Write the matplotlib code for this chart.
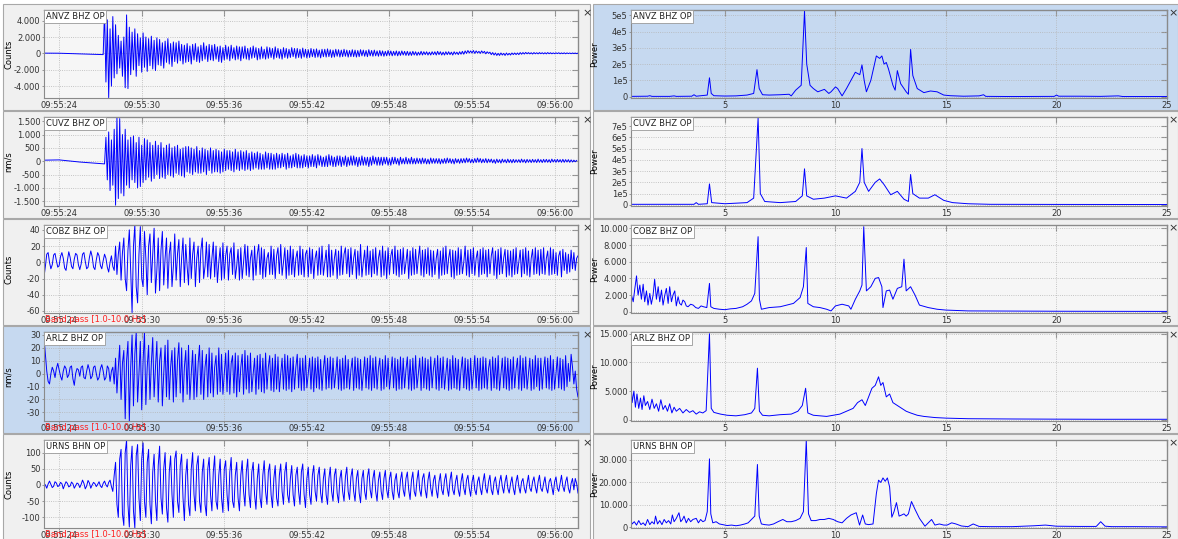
import matplotlib.pyplot as plt
from matplotlib.patches import Rectangle
from matplotlib.ticker import FuncFormatter

# ---------------- waveforms (seconds after 09:55:00), one sample every DT ----------------
DT = 0.1

# ANVZ BHZ: quiet part first, then the event from the onset
anvz_pre_t = [22.9, 24.0, 25.5, 27.2]
anvz_pre = [30, 20, -60, -150]
anvz_t0 = 27.3
anvz = [5200, -3500, 4100, -5400, 3000, -4000, 4500, -3000, 3500, -2500, 2200, -1800, 1500, -2800, 2000, -4200, 4700, -4300, 3200, -2600,
        2600, -2000, 3000, -2800, 2400, -1500, 1900, -2300, 2500, -1700, 2000, -2200, 1800, -1500, 2100, -1900, 1600, -2100, 1900, -1400,
        1700, -1500, 1300, -1800, 1500, -1100, 1800, -1300, 1200, -1600, 1400, -1000, 1300, -1200, 1500, -900, 1100, -1300, 1000, -1100,
        1200, -1000, 900, -1300, 1100, -800, 1200, -1000, 800, -1100, 1000, -900, 1300, -700, 900, -1000, 1100, -800, 1000, -900,
        1100, -700, 800, -1000, 900, -1100, 700, -800, 1000, -700, 800, -900, 1000, -600, 700, -800, 900, -700, 800, -900,
        800, -600, 900, -700, 600, -800, 700, -600, 900, -500, 700, -800, 600, -700, 800, -600, 500, -700, 800, -600,
        700, -500, 600, -700, 800, -500, 600, -600, 500, -700, 700, -500, 600, -600, 500, -500, 700, -400, 600, -600,
        600, -500, 500, -600, 650, -450, 500, -550, 450, -500, 600, -400, 500, -500, 550, -450, 400, -550, 500, -400,
        500, -450, 550, -400, 450, -500, 400, -450, 500, -350, 450, -450, 400, -400, 500, -350, 400, -450, 350, -400,
        450, -400, 400, -450, 350, -400, 450, -300, 400, -350, 350, -400, 450, -300, 350, -350, 400, -300, 300, -350,
        350, -300, 300, -350, 250, -300, 350, -250, 300, -300, 250, -250, 300, -300, 250, -250, 300, -200, 250, -250,
        250, -250, 200, -250, 250, -200, 200, -250, 150, -200, 250, -200, 200, -150, 200, -200, 150, -200, 200, -150,
        200, -200, 250, -150, 200, -200, 150, -200, 200, -150, 200, -150, 150, -200, 200, -100, 150, -150, 200, -100,
        250, -100, 300, 0, 350, 50, 300, 50, 350, 0, 300, 50, 250, 0, 300, 50, 250, -50, 200, 0,
        150, -150, 100, -200, 50, -250, 0, -250, 50, -200, 0, -250, 50, -200, 0, -200, 50, -150, 50, -150,
        50, -150, 100, -100, 100, -80, 120, -50, 100, -60, 80, -80, 100, -50, 80, -60, 100, -40, 80, -60,
        80, -60, 100, -40, 80, -50, 60, -40, 70, -30, 80, -50, 60, -40, 70, -50, 60, -30, 50, -40,
        50, -20, 40, -30, 30]

cuvz_pre_t = [22.9, 24.0, 25.5, 27.3]
cuvz_pre = [40, 50, -30, -100]
cuvz_t0 = 27.4
cuvz = [900, -700, 1100, -1100, 800, -900, 1200, -1650, 1650, -1400, 1600, -1200, 1000, -1300, 1200, -900, 800, -1000, 900, -700,
        950, -800, 700, -1000, 900, -950, 600, -800, 850, -700, 800, -600, 700, -750, 600, -650, 750, -500, 600, -650,
        700, -600, 500, -650, 600, -500, 650, -550, 500, -600, 550, -450, 600, -500, 450, -550, 500, -600, 550, -400,
        550, -450, 500, -500, 450, -400, 550, -450, 400, -450, 500, -400, 450, -500, 400, -350, 500, -450, 400, -400,
        450, -400, 400, -450, 350, -400, 450, -350, 400, -300, 400, -350, 350, -400, 450, -300, 350, -350, 400, -300,
        350, -350, 400, -300, 300, -350, 350, -300, 300, -250, 350, -300, 300, -300, 250, -300, 350, -250, 300, -300,
        300, -300, 250, -300, 300, -250, 250, -250, 300, -200, 250, -300, 300, -250, 200, -250, 250, -200, 300, -250,
        250, -250, 200, -250, 250, -200, 200, -250, 200, -200, 250, -200, 200, -250, 250, -150, 200, -200, 150, -200,
        200, -200, 250, -150, 200, -200, 150, -200, 200, -150, 200, -200, 150, -150, 200, -200, 150, -150, 200, -150,
        200, -150, 150, -200, 150, -150, 200, -150, 150, -150, 150, -200, 150, -150, 200, -100, 150, -150, 150, -150,
        150, -150, 150, -100, 150, -150, 100, -150, 150, -100, 150, -100, 100, -150, 150, -100, 100, -100, 150, -100,
        100, -100, 150, -100, 100, -100, 120, -80, 100, -100, 120, -80, 100, -100, 80, -100, 120, -80, 100, -80,
        100, -80, 100, -100, 80, -80, 100, -80, 120, -60, 100, -80, 80, -100, 100, -60, 80, -80, 100, -60,
        100, -60, 120, -40, 100, -60, 80, -60, 100, -50, 120, -40, 100, -60, 80, -50, 100, -60, 80, -40,
        80, -60, 60, -80, 80, -50, 60, -70, 80, -40, 60, -60, 80, -50, 60, -60, 70, -50, 60, -40,
        60, -50, 80, -40, 60, -60, 70, -40, 60, -50, 70, -40, 60, -50, 80, -40, 60, -50, 70, -40,
        70, -40, 60, -50, 80, -30, 60, -40, 70, -30, 60, -40, 70, -40, 60, -30, 60, -40, 50, -30,
        40, -20, 30]

# band-passed traces, whole window from 22.9 s
cobz_t0 = 22.9
cobz = [-18, -5, 10, 12, 0, -8, -3, 9, 11, 2, -6, -4, 7, 12, 5, -7, -10, 2, 13, 6,
        -5, -8, 4, 11, 9, -3, -9, -2, 10, 12, 1, -8, -6, 6, 14, 7, -6, -9, 3, 12,
        8, -4, -8, 2, 10, 5, -6, -12, 0, 8, -5, -10, 20, -15, 10, 25, -22, 12, 30, -20,
        -35, 15, 40, -10, -62, 20, 46, -30, -50, 10, 44, -20, -30, 38, 5, -40, 20, 35, -25, 10,
        42, -38, -10, 30, -35, 15, 38, -28, 5, 30, -32, 10, 25, -30, -5, 35, -22, 10, 28, -30,
        5, 30, -25, 22, -5, -28, 30, -20, 10, 25, -30, 5, 20, -25, 15, 30, -20, -5, 25, -18,
        22, -20, 5, 25, -18, 20, -25, 0, 18, -22, 24, -20, 8, 20, -22, 10, 18, -15, 24, -20,
        -5, 16, -22, 18, -20, 0, 22, -16, 20, -18, 5, 15, -22, 20, -16, 10, 22, -15, 18, -20,
        16, -18, 5, 12, -15, 20, -15, 16, -20, 8, 18, -14, 22, -16, 0, 18, -20, 15, -16, 20,
        -15, 16, -18, 5, 14, -16, 20, -15, 16, -18, 10, 15, -18, 18, -14, 16, -20, 5, 14, -16,
        18, -15, 20, -16, 0, 15, -18, 22, -18, 15, -16, 5, 16, -20, 14, -16, 20, -15, 10, 18,
        -14, 16, -18, 18, -15, 5, 16, -20, 14, -16, 22, -18, 0, 15, -16, 20, -15, 14, -18, 16,
        -14, 18, -16, 5, 15, -18, 20, -16, 14, -20, 18, -15, 8, 16, -14, 20, -16, 15, -18, 16,
        -15, 18, -14, 0, 16, -20, 14, -16, 18, -15, 16, -14, 5, 20, -16, 15, -18, 16, -14, 18,
        -16, 15, -18, 14, -15, 5, 16, -20, 14, -16, 18, -15, 20, -14, 5, 16, -18, 15, -20, 14,
        -16, 18, -15, 16, -14, 0, 20, -16, 15, -18, 16, -14, 18, -16, 5, 14, -18, 16, -15, 18,
        -14, 15, -18, 16, -14, 8, 18, -16, 14, -20, 16, -15, 18, -14, 5, 16, -18, 15, -16, 14,
        -18, 16, -15, 18, -14, 0, 15, -18, 16, -14, 18, -16, 14, -18, 5, 16, -15, 18, -14, 15,
        -16, 16, -14, 18, -15, 5, 14, -16, 18, -15, 16, -14, 12, -16, 8, 14, -18, 16, -10, 12,
        -14, 10, -12, 15, -8, 12, -10, 5, 8]

arlz_t0 = 22.9
arlz = [28, 15, 2, -6, -8, 0, 5, 2, -3, 4, 8, 3, -2, -5, 2, 6, 4, -3, -1, 5,
        6, -4, -9, 0, 4, 3, -2, 5, 6, -3, -4, 2, 7, 3, -4, -2, 5, 6, 0, -5,
        -3, 4, 7, 2, -5, -3, 6, 4, -6, 2, 5, -8, 12, -15, 5, 22, -20, 8, 18, -35,
        10, 25, -37, 5, 30, -25, 15, 32, -22, 0, 25, -28, 10, 32, -24, 5, 22, -20, 8, 28,
        -18, 5, 25, -22, 10, 20, -25, 0, 22, -18, 26, -20, 5, 18, -22, 20, -18, 10, 24, -15,
        20, -22, 5, 18, -16, 22, -20, 0, 18, -20, 15, -18, 8, 22, -16, 18, -20, 5, 15, -18,
        20, -15, 16, -18, 5, 14, -16, 20, -14, 15, -16, 0, 16, -14, 18, -16, 8, 14, -15, 16,
        -18, 14, -14, 5, 15, -16, 18, -12, 14, -15, 16, -14, 0, 12, -16, 14, -12, 15, -14, 12,
        -15, 16, -12, 5, 14, -13, 12, -14, 15, -12, 13, -14, 0, 12, -12, 15, -13, 14, -12, 12,
        -14, 13, -12, 5, 15, -11, 12, -13, 12, -13, 14, -11, 0, 12, -12, 13, -14, 12, -11, 13,
        -12, 11, -13, 4, 14, -12, 12, -11, 13, -12, 12, -11, 0, 13, -12, 11, -13, 12, -12, 14,
        -11, 11, -12, 3, 12, -13, 13, -11, 12, -12, 11, -13, 0, 13, -11, 12, -12, 14, -13, 12,
        -11, 13, -12, 4, 12, -13, 11, -12, 14, -10, 12, -12, 0, 13, -11, 12, -13, 11, -12, 13,
        -12, 12, -11, 3, 13, -12, 11, -13, 12, -12, 14, -11, 0, 12, -13, 13, -11, 12, -12, 11,
        -13, 13, -11, 4, 12, -12, 14, -13, 12, -11, 13, -12, 0, 12, -13, 11, -12, 14, -11, 12,
        -12, 11, -13, 3, 13, -11, 12, -12, 11, -13, 12, -12, 0, 14, -11, 12, -13, 12, -12, 13,
        -11, 12, -12, 4, 11, -13, 13, -11, 12, -12, 14, -13, 0, 12, -11, 13, -12, 12, -13, 11,
        -12, 13, -11, 3, 12, -12, 14, -13, 12, -11, 13, -12, 0, 12, -13, 11, -12, 14, -10, 12,
        -13, 12, -12, 4, 13, -11, 12, -12, 14, -13, 11, -12, 0, 13, -11, 12, -12, 11, -13, 14,
        -10, 8, -6, 15, 5, -8, 2, -12, -18]

urns_t0 = 22.9
urns = [5, 0, -10, 3, 12, 2, -8, -4, 10, 6, -5, -2, 8, 4, -12, 0, 10, 5, -6, -3,
        9, 4, -10, -2, 6, 3, -8, 2, 15, 5, -12, -3, 14, 6, -10, 0, 8, 4, -5, 2,
        10, -3, -8, 5, 12, 0, -6, 8, 15, -5, -20, 30, 70, -60, -100, 80, 110, -90, -125, 100,
        139, -60, -130, 60, 120, -80, -133, 90, 125, -40, -110, 80, 130, -50, -100, 70, 110, -60, -120, 40,
        95, -50, -110, 60, 120, -40, -90, 50, 100, -70, -115, 40, 90, -30, -100, 80, 105, -50, -85, 60,
        95, -40, -110, 30, 80, -60, -95, 50, 100, -30, -80, 60, 90, -50, -85, 40, 80, -60, -95, 50,
        85, -30, -80, 40, 90, -50, -75, 30, 80, -40, -85, 50, 75, -30, -80, 40, 85, -50, -70, 30,
        70, -40, -80, 30, 75, -20, -65, 40, 80, -30, -70, 40, 70, -30, -75, 20, 65, -40, -70, 30,
        75, -20, -60, 40, 65, -30, -70, 20, 60, -40, -65, 30, 65, -20, -60, 40, 70, -30, -55, 20,
        60, -30, -65, 30, 55, -20, -60, 40, 65, -30, -70, 20, 55, -30, -60, 30, 60, -20, -50, 30,
        55, -25, -55, 20, 50, -30, -60, 20, 55, -20, -50, 30, 50, -25, -55, 20, 45, -20, -50, 25,
        55, -20, -45, 25, 50, -20, -50, 20, 45, -25, -55, 20, 45, -20, -45, 25, 50, -15, -40, 20,
        45, -20, -50, 15, 40, -20, -45, 20, 45, -15, -40, 20, 40, -20, -45, 15, 35, -20, -40, 15,
        40, -15, -35, 20, 40, -15, -45, 15, 40, -20, -35, 15, 45, -15, -35, 20, 35, -15, -40, 15,
        40, -10, -35, 15, 30, -15, -40, 10, 35, -15, -30, 15, 35, -10, -35, 15, 40, -15, -30, 10,
        30, -15, -35, 10, 35, -10, -30, 15, 30, -10, -35, 10, 30, -15, -30, 10, 25, -10, -30, 10,
        35, -10, -25, 10, 30, -15, -30, 10, 25, -10, -30, 10, 30, -5, -25, 10, 30, -10, -25, 5,
        25, -10, -30, 10, 30, -5, -25, 10, 20, -10, -25, 5, 30, -10, -20, 10, 25, -5, -25, 10,
        30, -10, -20, 5, 25, -10, -25, 10, 20, -5, -30, 10, 25, -10, -20, 5, 30, -5, -20, 10,
        25, -10, -25, 5, 20, -15, 20, 5, -25]

# ---------------- spectra (Hz, power) ----------------
anvz_f = [0.75, 1.5, 1.6, 1.7, 2.5, 2.7, 2.8, 3.5, 3.6, 3.7, 4.2, 4.3, 4.38, 4.5,
          5.0, 5.5, 6.0, 6.3, 6.45, 6.55, 6.7, 7.0, 7.5, 7.9, 8.0, 8.2, 8.45,
          8.6, 8.7, 8.85, 9.0, 9.2, 9.4, 9.5, 9.7, 9.8, 10.0, 10.1, 10.3, 10.5,
          10.9, 11.1, 11.2, 11.3, 11.4, 11.6, 11.85, 12.0, 12.1, 12.2, 12.3, 12.4,
          12.6, 12.7, 12.8, 12.95, 13.2, 13.3, 13.4, 13.5, 13.7, 14.0, 14.3, 14.6,
          14.9, 15.2, 15.8, 16.5, 16.7, 16.8, 18.0, 19.9, 20.0, 20.1, 21.0, 22.0,
          22.8, 23.0, 25.0]
anvz_p = [2e3, 3e3, 6e3, 2e3, 2e3, 5e3, 2e3, 3e3, 1.2e4, 3e3, 1e4, 1.16e5, 2e4, 6e3,
          4e3, 5e3, 1e4, 2e4, 1.66e5, 5e4, 1.2e4, 1e4, 1.2e4, 1.5e4, 5e3, 4e4, 7e4,
          5.25e5, 2e5, 7e4, 5e4, 3e4, 4e4, 4.5e4, 2e4, 3e4, 6e4, 5e4, 5e3, 5e4,
          1.5e5, 1.35e5, 1.95e5, 1e5, 3e4, 1e5, 2.5e5, 2.35e5, 2.5e5, 2e5, 2.1e5, 1.7e5,
          7e4, 4e4, 1.6e5, 8e4, 3e4, 1.5e4, 2.9e5, 1.3e5, 5e4, 2.5e4, 3.5e4, 3e4,
          1e4, 6e3, 3e3, 5e3, 1.2e4, 2e3, 1e3, 2e3, 1e4, 3e3, 3e3, 2e3,
          5e3, 1e3, 1e3]

cuvz_f = [0.75, 2.0, 3.6, 3.7, 3.8, 4.2, 4.3, 4.4, 5.0, 6.0, 6.3, 6.5, 6.6, 6.8,
          7.5, 8.2, 8.5, 8.6, 8.7, 9.0, 9.5, 10.0, 10.5, 10.9, 11.1, 11.2, 11.3,
          11.5, 11.8, 12.0, 12.2, 12.5, 12.8, 13.1, 13.3, 13.4, 13.5, 13.8, 14.2,
          14.5, 14.9, 15.3, 16.0, 17.0, 20.0, 25.0]
cuvz_p = [5e3, 5e3, 5e3, 2e4, 5e3, 1e4, 1.86e5, 2e4, 1e4, 2e4, 6e4, 7.7e5, 1e5, 3e4,
          2e4, 3e4, 8e4, 3.2e5, 8e4, 5e4, 6e4, 8e4, 6e4, 1.2e5, 2e5, 5e5, 2e5,
          1.2e5, 2e5, 2.3e5, 1.8e5, 9e4, 1.2e5, 5e4, 3e4, 2.7e5, 1e5, 6e4, 6e4,
          9e4, 4e4, 2e4, 1e4, 5e3, 4e3, 3e3]

cobz_f = [0.75, 0.77, 0.85, 0.92, 1.0, 1.07, 1.15, 1.22, 1.3, 1.37, 1.45, 1.52, 1.6, 1.67,
          1.75, 1.82, 1.9, 1.98, 2.05, 2.13, 2.2, 2.28, 2.35, 2.43, 2.5, 2.58, 2.65, 2.73,
          2.8, 2.88, 2.95, 3.03, 3.1, 3.18, 3.25, 3.33, 3.45, 3.56, 3.68, 3.8, 3.92, 4.03,
          4.18, 4.3, 4.36, 4.5, 4.75, 5.0, 5.25, 5.5, 5.8, 6.0, 6.2, 6.35, 6.5, 6.56,
          6.65, 7.0, 7.5, 7.8, 8.1, 8.4, 8.55, 8.68, 8.75, 9.0, 9.3, 9.6, 9.8, 10.0,
          10.3, 10.6, 10.7, 10.9, 11.1, 11.2, 11.28, 11.4, 11.6, 11.8, 11.95, 12.1, 12.15,
          12.3, 12.45, 12.6, 12.8, 13.0, 13.1, 13.2, 13.4, 13.6, 13.8, 14.2, 14.6, 15.0,
          16.0, 18.0, 20.0, 22.0, 25.0]
cobz_p = [1500, 2000, 1200, 2700, 4300, 2000, 3200, 1500, 3300, 1200, 2500, 800, 2200, 900,
          2000, 3900, 1500, 3000, 1200, 2600, 800, 2000, 2800, 1000, 3000, 1200, 2000, 2500,
          700, 1800, 1000, 800, 1400, 1200, 700, 600, 900, 800, 500, 400, 700, 600,
          500, 3400, 600, 400, 300, 250, 350, 400, 600, 900, 1300, 2200, 9000, 1500,
          300, 500, 600, 800, 1000, 1700, 3000, 7700, 1000, 600, 500, 300, 100, 700,
          900, 700, 300, 1500, 2500, 3200, 10200, 2500, 3000, 4000, 4100, 3000, 500,
          2500, 2600, 1500, 2800, 3000, 6300, 2500, 3000, 2000, 800, 500, 300, 200,
          100, 80, 60, 50, 40]

arlz_f = [0.75, 0.8, 0.88, 0.95, 1.02, 1.1, 1.18, 1.25, 1.33, 1.4, 1.5, 1.6, 1.7, 1.8,
          1.9, 2.0, 2.1, 2.2, 2.3, 2.4, 2.5, 2.6, 2.7, 2.8, 2.95, 3.1, 3.25, 3.4,
          3.55, 3.7, 3.85, 4.0, 4.15, 4.3, 4.38, 4.5, 4.8, 5.1, 5.5, 5.9, 6.2, 6.35,
          6.47, 6.56, 6.7, 7.0, 7.5, 8.0, 8.3, 8.5, 8.65, 8.75, 9.0, 9.3, 9.6, 9.9,
          10.2, 10.5, 10.8, 11.0, 11.2, 11.35, 11.5, 11.65, 11.8, 11.95, 12.05, 12.15,
          12.3, 12.45, 12.6, 12.8, 13.0, 13.2, 13.4, 13.7, 14.0, 14.5, 15.0, 16.0,
          18.0, 20.0, 22.0, 25.0]
arlz_p = [6500, 3000, 5000, 2200, 4500, 2000, 3800, 1800, 4200, 2500, 3200, 1800, 3600, 2000,
          2800, 1500, 3500, 1800, 2500, 1500, 2800, 1200, 2200, 1500, 2000, 1200, 1800, 1300,
          1600, 1000, 1400, 1200, 1600, 15000, 2000, 1300, 1000, 800, 700, 900, 1200, 2000,
          9000, 1500, 800, 700, 900, 1000, 1500, 2500, 5500, 1200, 800, 700, 600, 800,
          1000, 1500, 2000, 3000, 3500, 2500, 4000, 5500, 6000, 7500, 6000, 6500,
          4000, 4500, 3000, 2500, 2000, 1500, 1200, 800, 600, 400, 300, 200,
          150, 120, 100, 100]

urns_f = [0.75, 0.8, 0.9, 1.0, 1.1, 1.2, 1.3, 1.4, 1.5, 1.6, 1.7, 1.8, 1.86, 1.95,
          2.05, 2.15, 2.25, 2.35, 2.45, 2.55, 2.62, 2.7, 2.8, 2.92, 3.0, 3.08, 3.15, 3.25,
          3.35, 3.45, 3.55, 3.7, 3.8, 3.9, 4.0, 4.1, 4.2, 4.3, 4.36, 4.45, 4.6, 4.75,
          4.9, 5.1, 5.3, 5.5, 5.7, 5.9, 6.05, 6.2, 6.35, 6.47, 6.55, 6.65, 6.8, 7.0,
          7.2, 7.4, 7.62, 7.8, 8.0, 8.2, 8.4, 8.55, 8.68, 8.78, 8.9, 9.1, 9.3, 9.5,
          9.7, 9.9, 10.1, 10.3, 10.5, 10.7, 10.94, 11.09, 11.23, 11.35, 11.5, 11.7, 11.85,
          11.95, 12.05, 12.15, 12.25, 12.35, 12.45, 12.55, 12.65, 12.76, 12.88, 13.0, 13.1,
          13.2, 13.3, 13.44, 13.6, 13.8, 14.05, 14.2, 14.35, 14.5, 14.7, 14.9, 15.05,
          15.26, 15.45, 15.7, 16.0, 16.23, 16.5, 17.0, 18.0, 19.0, 19.5, 20.0, 21.0,
          21.8, 22.0, 22.2, 22.5, 23.5, 25.0]
urns_p = [3000, 1500, 2500, 1000, 3000, 1200, 2000, 800, 3500, 1200, 2500, 1500, 5000, 1500,
          3000, 1200, 3500, 2000, 3000, 1500, 5500, 2500, 4000, 6500, 2500, 3500, 5000, 2000,
          4000, 2500, 3500, 4000, 2000, 3500, 2500, 3000, 7000, 30500, 6000, 2000, 2500, 1500,
          1200, 800, 1000, 700, 1000, 1500, 2000, 3500, 5000, 28000, 5000, 1500, 1200, 1000,
          1500, 2500, 3500, 2500, 2500, 3000, 4000, 7000, 39000, 6000, 3000, 3000, 3500, 3500,
          4000, 3500, 2500, 2000, 4000, 5500, 6500, 1000, 5500, 1500, 1200, 1500, 15000,
          21000, 20000, 22000, 20500, 22000, 18000, 4500, 7000, 11000, 5000, 5500, 6000,
          5000, 6000, 11500, 8000, 4000, 500, 2000, 3500, 1000, 1500, 1000, 1000,
          2000, 1500, 600, 300, 1500, 400, 300, 300, 700, 1000, 500, 400,
          400, 2500, 500, 300, 300, 200]

stations = ['ANVZ BHZ OP', 'CUVZ BHZ OP', 'COBZ BHZ OP', 'ARLZ BHZ OP', 'URNS BHN OP']
units = ['Counts', 'nm/s', 'Counts', 'nm/s', 'Counts']
time_ticks = [24, 30, 36, 42, 48, 54, 60]
time_labels = ['09:55:24', '09:55:30', '09:55:36', '09:55:42', '09:55:48', '09:55:54', '09:56:00']
wave_yticks = [[-4000, -2000, 0, 2000, 4000],
               [-1500, -1000, -500, 0, 500, 1000, 1500],
               [-60, -40, -20, 0, 20, 40],
               [-30, -20, -10, 0, 10, 20, 30],
               [-100, -50, 0, 50, 100]]
wave_ylim = [(-5450, 5300), (-1680, 1660), (-62.5, 46), (-36.7, 32.3), (-133, 139)]
spec_yticks = [[0, 1e5, 2e5, 3e5, 4e5, 5e5],
               [0, 1e5, 2e5, 3e5, 4e5, 5e5, 6e5, 7e5],
               [0, 2000, 4000, 6000, 8000, 10000],
               [0, 5000, 10000, 15000],
               [0, 10000, 20000, 30000]]
spec_ylim = [(-8e3, 5.32e5), (-1e4, 7.8e5), (-150, 10400), (-200, 15300), (-300, 38900)]


def sampled(t0, vals):
    return [t0 + DT * i for i in range(len(vals))]


waves = [(anvz_pre_t + sampled(anvz_t0, anvz), anvz_pre + anvz),
         (cuvz_pre_t + sampled(cuvz_t0, cuvz), cuvz_pre + cuvz),
         (sampled(cobz_t0, cobz), cobz),
         (sampled(arlz_t0, arlz), arlz),
         (sampled(urns_t0, urns), urns)]
spectra = [(anvz_f, anvz_p), (cuvz_f, cuvz_p), (cobz_f, cobz_p),
           (arlz_f, arlz_p), (urns_f, urns_p)]
selected = [(0, 1), (3, 0)]  # (row, col) panels with the blue highlight

W, H = 1178, 539
fig = plt.figure(figsize=(W / 100, H / 100), dpi=100)
fig.patch.set_facecolor('white')

tops = [10, 117, 225, 332, 440]
bots = [98, 206, 313, 421, 528]
cols = [(44, 578, 3, 590), (631, 1167, 593, 1178)]
close_x = [587, 1173]

GRAY_BG = '#f0f0f0'
GRAY_AX = '#f6f6f6'
BLUE_BG = '#c6d9f0'


def thousands(v, pos):
    return f'{int(round(v)):,}'.replace(',', '.')


def sci5(v, pos):
    if v == 0:
        return '0'
    return f'{int(round(v / 1e5))}e5'


for r in range(5):
    for c in range(2):
        x0, x1, fx0, fx1 = cols[c]
        blue = (r, c) in selected
        bg = BLUE_BG if blue else GRAY_BG
        fig.patches.append(Rectangle((fx0 / W, 1 - (bots[r] + 12) / H), (fx1 - fx0) / W,
                                     (bots[r] + 12 - tops[r] + 6) / H,
                                     transform=fig.transFigure, facecolor=bg,
                                     edgecolor='#a8a8a8', linewidth=0.8, zorder=-10))
        ax = fig.add_axes([x0 / W, 1 - bots[r] / H, (x1 - x0) / W, (bots[r] - tops[r]) / H])
        ax.set_facecolor(BLUE_BG if blue else GRAY_AX)
        for s in ax.spines.values():
            s.set_color('#8a8a8a')
            s.set_linewidth(0.8)

        if c == 0:
            t, v = waves[r]
            ax.plot(t, v, color='#0000ff', linewidth=0.7)
            ax.set_xlim(22.9, 61.7)
            ax.set_ylim(*wave_ylim[r])
            xt = time_ticks
            ax.set_xticks(time_ticks)
            ax.set_xticklabels(time_labels)
            yt = wave_yticks[r]
            ax.set_yticks(yt)
            ax.yaxis.set_major_formatter(FuncFormatter(thousands))
            ax.set_ylabel(units[r], fontsize=6)
            ax.yaxis.set_label_coords(-0.058, 0.5)
            if r >= 2:
                ax.text(0.002, -0.125, 'Band pass [1.0-10.0 Hz]', transform=ax.transAxes,
                        fontsize=6, color='#ff2020', va='bottom', ha='left', zorder=5)
        else:
            f, p = spectra[r]
            ax.plot(f, p, color='#0000ff', linewidth=0.7)
            ax.set_xlim(0.75, 25)
            ax.set_ylim(*spec_ylim[r])
            xt = [5, 10, 15, 20, 25]
            ax.set_xticks(xt)
            ax.set_xticklabels(['5', '10', '15', '20', '25'])
            yt = spec_yticks[r]
            ax.set_yticks(yt)
            ax.yaxis.set_major_formatter(FuncFormatter(sci5 if r < 2 else thousands))
            ax.set_ylabel('Power', fontsize=6)
            ax.yaxis.set_label_coords(-0.06, 0.5)

        ax.grid(True, linestyle=':', color='#b4b4b4', linewidth=0.6)
        ax.tick_params(direction='out', length=1.5, width=0.6, labelsize=6,
                       colors='#8a8a8a', labelcolor='#333333', pad=1)
        top = ax.secondary_xaxis('top')
        top.set_xticks(xt)
        top.tick_params(direction='in', length=4, width=0.8, labeltop=False, colors='#8a8a8a')
        right = ax.secondary_yaxis('right')
        right.set_yticks(yt)
        right.tick_params(direction='in', length=4, width=0.8, labelright=False, colors='#8a8a8a')

        ax.text(0.003, 0.975, stations[r], transform=ax.transAxes, fontsize=6,
                va='top', ha='left', color='#222222', zorder=6,
                bbox=dict(boxstyle='square,pad=0.25', facecolor='white',
                          edgecolor='#999999', linewidth=0.6))
        fig.text(close_x[c] / W, 1 - (tops[r] + 3) / H, '×', fontsize=8,
                 ha='center', va='center', color='#333333')

fig.savefig('out.png', dpi=100)
